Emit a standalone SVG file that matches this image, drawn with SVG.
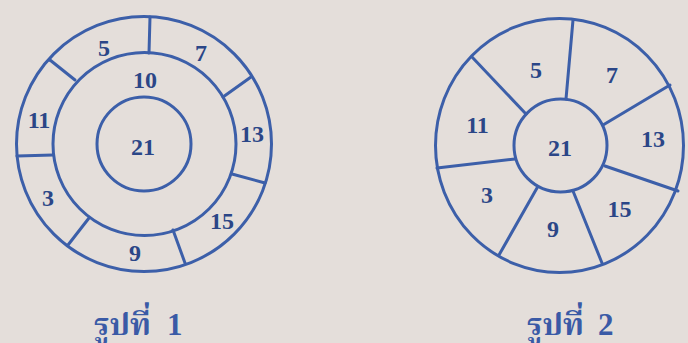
<svg xmlns="http://www.w3.org/2000/svg" width="688" height="343" viewBox="0 0 688 343">
<style>
.ln{fill:none;stroke:#3c5fa9;stroke-width:3;stroke-linecap:round}
.num{font-family:"Liberation Serif","Times New Roman",serif;font-weight:bold;font-size:24px;fill:#2b4687;text-anchor:middle}
.cap{font-family:"Liberation Serif","Noto Serif Thai","Noto Sans Thai",serif;font-weight:bold;font-size:31px;fill:#3a5aa6}
</style>
<rect width="688" height="343" fill="#e4deda"/>
<g id="figure1">
<g id="fig1-rings">
<circle class="ln" cx="144" cy="144" r="127.5"/>
<circle class="ln" cx="144.5" cy="144" r="91.5"/>
<circle class="ln" cx="144" cy="144" r="47"/>
</g>
<g id="fig1-dividers">
<line class="ln" x1="150" y1="17" x2="149" y2="53"/>
<line class="ln" x1="50" y1="60" x2="75" y2="80"/>
<line class="ln" x1="17" y1="156" x2="53" y2="155"/>
<line class="ln" x1="68" y1="245" x2="89" y2="218"/>
<line class="ln" x1="173" y1="230" x2="185" y2="263"/>
<line class="ln" x1="232" y1="174" x2="265" y2="183"/>
<line class="ln" x1="223" y1="97" x2="251" y2="77"/>
</g>
<g id="fig1-labels">
<text class="num" x="104" y="56">5</text>
<text class="num" x="201" y="61">7</text>
<text class="num" x="145" y="88">10</text>
<text class="num" x="39" y="128">11</text>
<text class="num" x="252" y="142">13</text>
<text class="num" x="143" y="155">21</text>
<text class="num" x="48" y="206">3</text>
<text class="num" x="222" y="229">15</text>
<text class="num" x="135" y="261">9</text>
</g>
<text id="caption1" class="cap" x="94" y="335">รูปที่<tspan x="167">1</tspan></text>
</g>
<g id="figure2">
<g id="fig2-rings">
<ellipse class="ln" cx="559.5" cy="145.5" rx="124" ry="127"/>
<circle class="ln" cx="560.5" cy="145.5" r="46.5"/>
</g>
<g id="fig2-dividers">
<line class="ln" x1="573" y1="20" x2="566" y2="99"/>
<line class="ln" x1="472" y1="57" x2="526" y2="114"/>
<line class="ln" x1="437" y1="168" x2="515" y2="159"/>
<line class="ln" x1="499" y1="255" x2="537" y2="188"/>
<line class="ln" x1="573" y1="191" x2="602" y2="263"/>
<line class="ln" x1="605" y1="166" x2="678" y2="191"/>
<line class="ln" x1="603" y1="125" x2="670" y2="85"/>
</g>
<g id="fig2-labels">
<text class="num" x="536" y="78">5</text>
<text class="num" x="612" y="83">7</text>
<text class="num" x="477.5" y="133">11</text>
<text class="num" x="560" y="155.5">21</text>
<text class="num" x="653" y="147">13</text>
<text class="num" x="487" y="203">3</text>
<text class="num" x="619.5" y="217">15</text>
<text class="num" x="553" y="237">9</text>
</g>
<text id="caption2" class="cap" x="527" y="335">รูปที่<tspan x="598">2</tspan></text>
</g>
</svg>
